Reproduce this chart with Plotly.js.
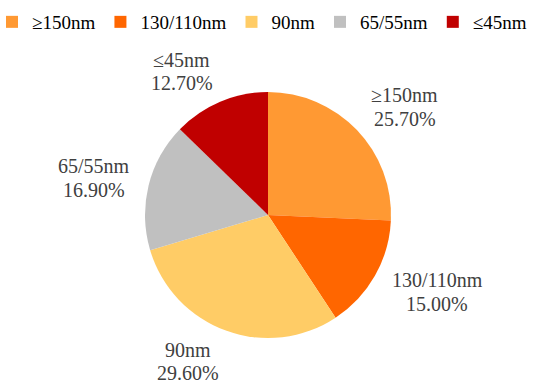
<!DOCTYPE html>
<html>
<head>
<meta charset="utf-8">
<script src="https://cdn.plot.ly/plotly-3.0.1.min.js"></script>
<style>html,body{margin:0;padding:0;background:#fff;}#chart{width:544px;height:381px;}</style>
</head>
<body>
<div id="chart"></div>
<script>
const categories = ["≥150nm", "130/110nm", "90nm", "65/55nm", "≤45nm"];
const shares = [25.7, 15.0, 29.6, 16.9, 12.7];
const colors = ["#FF9933", "#FF6600", "#FFCC66", "#C0C0C0", "#C00000"];

const FONT = "'Liberation Serif', 'Times New Roman', serif";
const W = 544, H = 381, T = 20;
const px2x = px => px / W;
const py2y = py => (H - py) / (H - T);
// pie box in pixels
const cx = 268, cy = 215, R = 123;
const domX = [px2x(cx - R), px2x(cx + R)];
const domY = [py2y(cy + R), py2y(cy - R)];

// measure label widths
const ctx = document.createElement("canvas").getContext("2d");
ctx.font = "20px 'Liberation Serif'";

// label annotations, positioned from slice mid-angles (clockwise from 12 o'clock)
const total = shares.reduce((a, b) => a + b, 0);
const annotations = [];
let cum = 0;
const Rx = 143, Ry = 134, hh = 22, lineGap = 23.5;
shares.forEach((v, i) => {
  const mid = (cum + v / 2) / total * 2 * Math.PI;
  cum += v;
  const s = Math.sin(mid), c = Math.cos(mid);
  const lines = [categories[i], v.toFixed(2) + "%"];
  const hw = Math.max(...lines.map(t => ctx.measureText(t).width)) / 2;
  const X = cx + Rx * s + (Math.abs(s) < 0.15 ? 0 : Math.sign(s) * hw);
  const Y = cy - Ry * c - hh * c;
  lines.forEach((t, j) => {
    annotations.push({
      xref: "paper", yref: "paper",
      x: px2x(X),
      y: py2y(Y + (j - 0.5) * lineGap),
      xanchor: "center", yanchor: "middle",
      text: t,
      showarrow: false,
      font: {family: FONT, size: 20, color: "#404040"}
    });
  });
});

const data = [{
  type: "pie",
  labels: categories,
  values: shares,
  sort: false,
  direction: "clockwise",
  rotation: 0,
  domain: {x: domX, y: domY},
  marker: {colors: colors, line: {width: 0}},
  textposition: "none",
  hoverinfo: "none"
}];

const layout = {
  width: W, height: H,
  margin: {l: 0, r: 0, t: T, b: 0, autoexpand: false},
  paper_bgcolor: "#fff",
  showlegend: true,
  legend: {
    orientation: "h",
    x: px2x(-8), y: py2y(3), xanchor: "left", yanchor: "top",
    font: {family: FONT, size: 19, color: "#000"},
    itemwidth: 30
  },
  annotations: annotations
};

Plotly.newPlot("chart", data, layout, {displayModeBar: false, staticPlot: true});
</script>
</body>
</html>
